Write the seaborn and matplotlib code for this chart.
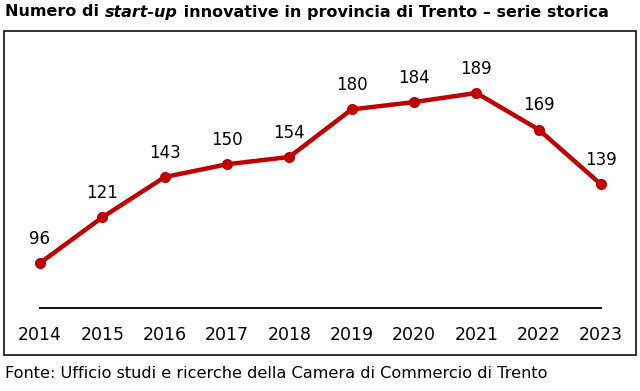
import matplotlib
matplotlib.use("Agg")
import matplotlib.pyplot as plt
import seaborn as sns
import pandas as pd
from matplotlib.patches import Rectangle

# ── dati ──────────────────────────────────────────────────────────
anni = [2014, 2015, 2016, 2017, 2018, 2019, 2020, 2021, 2022, 2023]
startup = [96, 121, 143, 150, 154, 180, 184, 189, 169, 139]

titolo_pre = "Numero di "
titolo_it = "start-up"
titolo_post = " innovative in provincia di Trento \u2013 serie storica"
fonte = "Fonte: Ufficio studi e ricerche della Camera di Commercio di Trento"

ROSSO = "#C00000"

sns.set_theme(style="white")
plt.rcParams["font.family"] = ["DejaVu Sans"]

df = pd.DataFrame({"anno": anni, "n": startup})

fig = plt.figure(figsize=(6.4, 3.91), dpi=100)
W, H = 640, 391

# riquadro esterno
fig.patches.append(Rectangle((4 / W, 1 - 355 / H), 632 / W, 324 / H,
                             transform=fig.transFigure, fill=False,
                             edgecolor="#222222", linewidth=1.3))

ax = fig.add_axes([40 / W, 1 - 308 / H, 561 / W, 258 / H])
ax.patch.set_alpha(0)
sns.lineplot(data=df, x="anno", y="n", ax=ax, color=ROSSO, linewidth=3.2,
             marker="o", markersize=8, markeredgewidth=0, clip_on=False)

ax.set_xlim(anni[0], anni[-1])
ax.set_ylim(71.4, 212.5)
ax.set_xticks(anni)
ax.set_xticklabels([str(a) for a in anni], fontsize=12.5, color="black")
ax.tick_params(axis="x", length=0, pad=13)
ax.set_yticks([])
ax.set_xlabel("")
ax.set_ylabel("")
for s in ["left", "right", "top"]:
    ax.spines[s].set_visible(False)
ax.spines["bottom"].set_color("black")
ax.spines["bottom"].set_linewidth(1.3)

for a, v in zip(anni, startup):
    ax.annotate(str(v), (a, v), xytext=(0, 11), textcoords="offset points",
                ha="center", va="bottom", fontsize=12, color="black")

# titolo con parte in corsivo
r = fig.canvas.get_renderer()
x = 5 / W
y = 1 - 12 / H
for testo, stile in [(titolo_pre, "normal"), (titolo_it, "italic"), (titolo_post, "normal")]:
    t = fig.text(x, y, testo, fontsize=11.5, fontweight="bold", style=stile,
                 ha="left", va="center", color="black")
    bb = t.get_window_extent(renderer=r)
    x += bb.width / W

fig.text(5 / W, 1 - 373 / H, fonte, fontsize=11.6, ha="left", va="center",
         color="black")

fig.savefig("out.png", dpi=100, facecolor="white")
